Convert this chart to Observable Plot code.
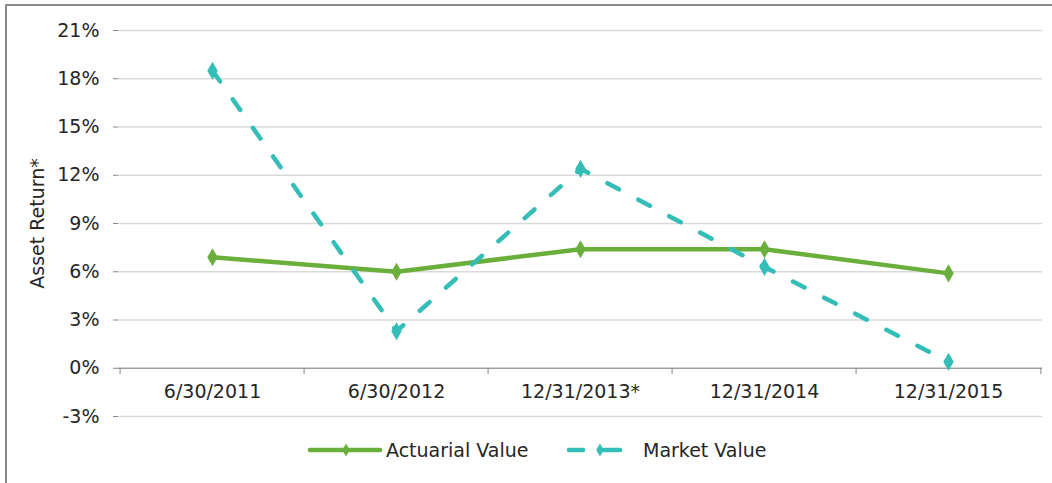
<!DOCTYPE html>
<html><head><meta charset="utf-8">
<script src="https://cdn.jsdelivr.net/npm/d3@7"></script>
<script src="https://cdn.jsdelivr.net/npm/@observablehq/plot@0.6"></script>
<style>
body{margin:0;background:#fff;font-family:"DejaVu Sans",sans-serif;overflow:hidden}
#frame{position:absolute;left:5px;top:4px;width:1200px;height:600px;border:2px solid #8a8a8a;box-sizing:border-box}
#chart{position:absolute;left:0;top:0}
#legend{position:absolute;left:0;top:436px;width:1052px;height:30px;font-size:19px;color:#222}
</style></head>
<body>
<div id="frame"></div>
<div id="chart"></div>
<div id="legend"></div>
<script>
const categories = ["6/30/2011", "6/30/2012", "12/31/2013*", "12/31/2014", "12/31/2015"];
const actuarial = [6.9, 6.0, 7.4, 7.4, 5.9];
const market = [18.5, 2.3, 12.4, 6.3, 0.4];
const yTicks = [-3, 0, 3, 6, 9, 12, 15, 18, 21];
const seriesNames = ["Actuarial Value", "Market Value"];
const colors = {"Actuarial Value": "#6aaf3c", "Market Value": "#35bdb8"};
const FONT = "'DejaVu Sans', sans-serif";
const FS = 19;

const data = [];
categories.forEach((c, i) => {
  data.push({date: c, series: seriesNames[0], value: actuarial[i]});
  data.push({date: c, series: seriesNames[1], value: market[i]});
});

const W = 1052, ML = 118, MR = 10;
const step = (W - ML - MR) / categories.length;
const DASH = "13,22";

const plot = Plot.plot({
  width: W, height: 430,
  marginLeft: ML, marginRight: MR, marginTop: 30, marginBottom: 14,
  style: {fontFamily: FONT, fontSize: FS + "px", color: "#262626", background: "transparent"},
  x: {type: "point", domain: categories, padding: 0.5, axis: null},
  y: {domain: [-3, 21], ticks: yTicks, grid: false, label: null},
  marks: [
    Plot.gridY(yTicks, {stroke: "#d9d9d9", strokeOpacity: 1, strokeWidth: 1.5}),
    Plot.axisY(yTicks, {tickSize: 5, tickPadding: 14, tickFormat: d => d + "%", stroke: "#888", fontSize: FS, label: "Asset Return*", labelAnchor: "center", labelArrow: "none", labelOffset: 88}),
    Plot.ruleX([0], {frameAnchor: "left", stroke: "#888", strokeWidth: 1}),
    Plot.ruleY([0], {stroke: "#888", strokeWidth: 1.2}),
    Plot.ruleX(categories, {x: d => d, dx: -step / 2, y1: 0, y2: -0.4, stroke: "#888"}),
    Plot.ruleX(categories.slice(-1), {x: d => d, dx: step / 2, y1: 0, y2: -0.4, stroke: "#888"}),
    Plot.text(categories, {x: d => d, y: 0, dy: 24, fontSize: FS, fill: "#262626"}),
    Plot.line(data.filter(d => d.series === "Actuarial Value"), {x: "date", y: "value", stroke: colors["Actuarial Value"], strokeWidth: 4.5, strokeLinejoin: "round"}),
    Plot.line(data.filter(d => d.series === "Market Value"), {x: "date", y: "value", stroke: colors["Market Value"], strokeWidth: 4.5, strokeDasharray: DASH, strokeLinecap: "round"}),
    Plot.dot(data, {x: "date", y: "value", symbol: "diamond", r: 5.5, fill: d => colors[d.series], stroke: "none"})
  ]
});
document.getElementById("chart").appendChild(plot);

// legend
const leg = d3.select("#legend").append("svg").attr("width", W).attr("height", 30)
  .style("font-family", FONT).style("font-size", FS + "px");
const y0 = 14;
leg.append("line").attr("x1", 310).attr("x2", 380).attr("y1", y0).attr("y2", y0).attr("stroke", colors["Actuarial Value"]).attr("stroke-width", 4.5).attr("stroke-linecap", "round");
leg.append("path").attr("d", d3.symbol(d3.symbolDiamond, 50)()).attr("transform", `translate(346,${y0})`).attr("fill", colors["Actuarial Value"]);
leg.append("text").attr("x", 386).attr("y", y0).attr("dy", "0.35em").attr("fill", "#262626").text(seriesNames[0]);
leg.append("line").attr("x1", 569).attr("x2", 583).attr("y1", y0).attr("y2", y0).attr("stroke", colors["Market Value"]).attr("stroke-width", 4.5).attr("stroke-linecap", "round");
leg.append("line").attr("x1", 601).attr("x2", 620).attr("y1", y0).attr("y2", y0).attr("stroke", colors["Market Value"]).attr("stroke-width", 4.5).attr("stroke-linecap", "round");
leg.append("path").attr("d", d3.symbol(d3.symbolDiamond, 50)()).attr("transform", `translate(600,${y0})`).attr("fill", colors["Market Value"]);
leg.append("text").attr("x", 643).attr("y", y0).attr("dy", "0.35em").attr("fill", "#262626").text(seriesNames[1]);
</script>
</body></html>
